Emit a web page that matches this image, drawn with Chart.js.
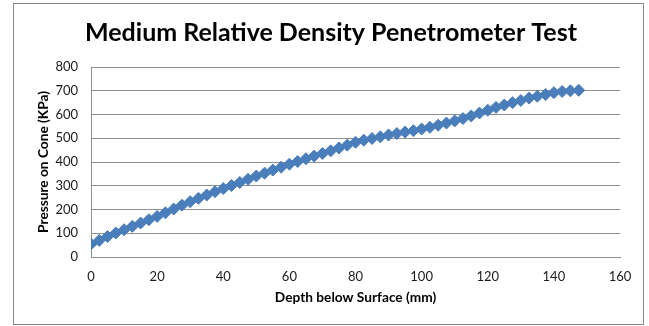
<!DOCTYPE html>
<html>
<head>
<meta charset="utf-8">
<script src="https://cdn.jsdelivr.net/npm/chart.js@4/dist/chart.umd.min.js"></script>
<style>
  html, body { margin: 0; padding: 0; background: #fff; }
  #wrap { width: 649px; height: 326px; }
</style>
</head>
<body>
<div id="wrap"><canvas id="penChart" width="649" height="326"></canvas></div>
<script>
// depth (mm) and cone pressure (kPa) readings, every 2.5 mm
const depthMm = [0, 2.5, 5, 7.5, 10, 12.5, 15, 17.5, 20, 22.5, 25, 27.5, 30, 32.5, 35, 37.5, 40, 42.5, 45, 47.5,
  50, 52.5, 55, 57.5, 60, 62.5, 65, 67.5, 70, 72.5, 75, 77.5, 80, 82.5, 85, 87.5, 90, 92.5, 95, 97.5,
  100, 102.5, 105, 107.5, 110, 112.5, 115, 117.5, 120, 122.5, 125, 127.5, 130, 132.5, 135, 137.5, 140, 142.5, 145, 147.5];
const pressureKPa = [55, 70, 86, 101, 115, 129, 143, 157, 171, 186, 202, 218, 233, 247, 261, 275, 288, 301, 314, 327,
  341, 353, 366, 378, 391, 402, 414, 425, 436, 447, 459, 471, 483, 492, 499, 506, 514, 520, 526, 532,
  539, 546, 555, 564, 573, 583, 594, 606, 618, 630, 640, 650, 659, 669, 677, 684, 692, 697, 700, 702];

const xTicks = [0, 20, 40, 60, 80, 100, 120, 140, 160];
const yTicks = [0, 100, 200, 300, 400, 500, 600, 700, 800];

const seriesColor = '#4A7EBB';
const gridColor = '#8E8E8E';
const labelFont = "Lato, 'Open Sans', sans-serif";

// outer frame around the whole chart
const frame = {
  id: 'frame',
  afterDraw(chart) {
    const ctx = chart.ctx;
    ctx.save();
    ctx.strokeStyle = '#8A8A8A';
    ctx.lineWidth = 1;
    ctx.strokeRect(13.5, 3.5, 630, 321);
    ctx.restore();
  }
};

const ctx = document.getElementById('penChart').getContext('2d');
new Chart(ctx, {
  type: 'scatter',
  data: {
    datasets: [{
      data: depthMm.map((d, i) => ({ x: d, y: pressureKPa[i] })),
      showLine: true,
      borderColor: seriesColor,
      backgroundColor: seriesColor,
      borderWidth: 2.5,
      pointStyle: 'rectRot',
      pointRadius: 6,
      pointBorderWidth: 1,
      pointBorderColor: seriesColor,
      pointBackgroundColor: seriesColor
    }]
  },
  options: {
    responsive: false,
    animation: false,
    layout: { padding: { left: 13, right: 0, top: 0, bottom: 0 } },
    plugins: {
      legend: { display: false },
      tooltip: { enabled: false },
      title: {
        display: true,
        text: 'Medium Relative Density Penetrometer Test',
        color: '#000',
        font: { family: labelFont, size: 25, weight: 'bold' },
        padding: { top: 18, bottom: 19 }
      }
    },
    scales: {
      x: {
        type: 'linear',
        min: 0,
        max: 160,
        afterBuildTicks: s => { s.ticks = xTicks.map(v => ({ value: v })); },
        afterFit: s => { s.height = 69; },
        grid: { color: 'transparent', drawTicks: false },
        border: { color: gridColor },
        ticks: { color: '#1a1a1a', padding: 12, font: { family: labelFont, size: 13 } },
        title: {
          display: true,
          text: 'Depth below Surface (mm)',
          color: '#000',
          font: { family: labelFont, size: 13.7, weight: 'bold' },
          padding: { top: 0, bottom: 20 }
        }
      },
      y: {
        type: 'linear',
        min: 0,
        max: 800,
        afterBuildTicks: s => { s.ticks = yTicks.map(v => ({ value: v })); },
        afterFit: s => { s.width = 78; },
        grid: { color: gridColor, drawTicks: false },
        border: { color: gridColor },
        ticks: { color: '#1a1a1a', padding: 13, font: { family: labelFont, size: 13 } },
        title: {
          display: true,
          text: 'Pressure on Cone (KPa)',
          color: '#000',
          font: { family: labelFont, size: 13.7, weight: 'bold' },
          padding: { top: 22, bottom: 0 }
        }
      },
      // empty strip keeping the plot clear of the right edge
      rightGap: {
        type: 'linear',
        position: 'right',
        min: 0,
        max: 1,
        afterFit: s => { s.width = 29; },
        grid: { display: false },
        border: { display: false },
        ticks: { display: false }
      }
    }
  },
  plugins: [frame]
});
</script>
</body>
</html>
